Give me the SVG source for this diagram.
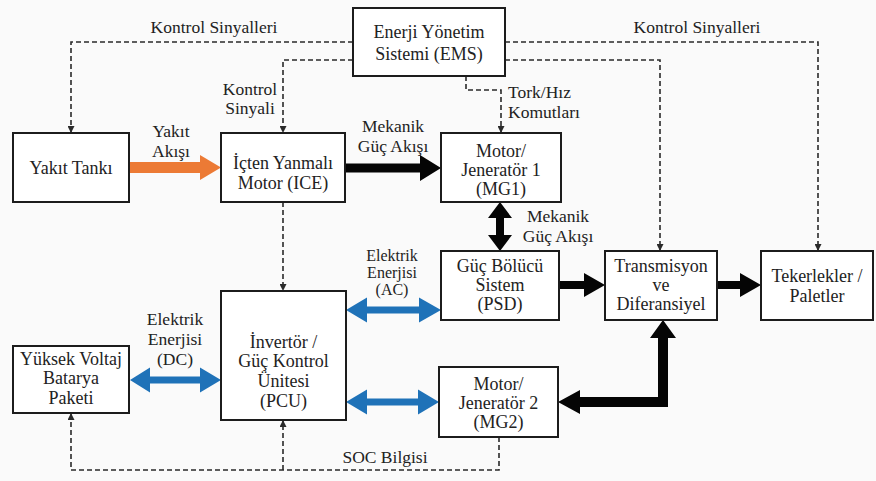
<svg xmlns="http://www.w3.org/2000/svg" width="876" height="481" viewBox="0 0 876 481">
  <defs>
    <marker id="tip" viewBox="0 0 10 10" refX="10" refY="5" markerWidth="7" markerHeight="7" markerUnits="userSpaceOnUse" orient="auto">
      <path d="M0,0 L10,5 L0,10 Z" fill="#2a2a2a"/>
    </marker>
  </defs>

  <rect x="0" y="0" width="876" height="481" fill="#fafafa"/>

  <!-- connectors -->
  <g id="connectors">
    <!-- control signals from EMS -->
    <g fill="none" stroke="#2a2a2a" stroke-width="1.6" stroke-dasharray="5 3">
      <path d="M353,42 H71 V133" marker-end="url(#tip)"/>
      <path d="M353,60 H283 V133" marker-end="url(#tip)"/>
      <path d="M505,42 H818 V251" marker-end="url(#tip)"/>
      <path d="M505,60 H660 V251" marker-end="url(#tip)"/>
      <path d="M466,76 V90 H501 V133" marker-end="url(#tip)"/>
      <path d="M283,202 V291" marker-end="url(#tip)"/>
      <!-- SOC feedback -->
      <path d="M499,437 V470 H71 V413" marker-end="url(#tip)"/>
      <path d="M283,470 V420" marker-end="url(#tip)"/>
    </g>

    <!-- fuel flow -->
    <polygon fill="#ec7a35" points="129,162 200,162 200,155 221,167.5 200,180 200,173 129,173"/>

    <!-- mechanical power -->
    <g fill="#050505">
      <polygon points="345,163.5 420,163.5 420,155 441,168 420,181 420,172.5 345,172.5"/>
      <polygon points="500,202 512,218 504,218 504,235 512,235 500,251 488,235 496,235 496,218 488,218"/>
      <polygon points="559,281 584,281 584,273 605,285 584,297 584,289 559,289"/>
      <polygon points="717,281 740,281 740,273 761,285 740,297 740,289 717,289"/>
      <polygon points="663,320 676,338 668,338 668,407 580,407 580,414 558,402 580,390 580,397 658,397 658,338 650,338"/>
    </g>

    <!-- electric energy -->
    <g fill="#1f72b8">
      <polygon points="130,380 150,367.5 150,376.5 200,376.5 200,367.5 221,380 200,392.5 200,383.5 150,383.5 150,392.5"/>
      <polygon points="346,310 367,297.5 367,306.5 419,306.5 419,297.5 441,310 419,322.5 419,313.5 367,313.5 367,322.5"/>
      <polygon points="346,402 367,389.5 367,398.5 418,398.5 418,389.5 439,402 418,414.5 418,405.5 367,405.5 367,414.5"/>
    </g>

    <!-- labels -->
    <g font-family="Liberation Serif" font-size="17.5" fill="#222" text-anchor="middle">
      <text font-family="Liberation Serif" x="214" y="33">Kontrol Sinyalleri</text>
      <text font-family="Liberation Serif" x="697" y="33">Kontrol Sinyalleri</text>
      <text font-family="Liberation Serif" x="250" y="95">Kontrol</text>
      <text font-family="Liberation Serif" x="250" y="114">Sinyali</text>
      <text font-family="Liberation Serif" x="171" y="137">Yakıt</text>
      <text font-family="Liberation Serif" x="171" y="157">Akışı</text>
      <text font-family="Liberation Serif" x="393" y="132">Mekanik</text>
      <text font-family="Liberation Serif" x="393" y="152">Güç Akışı</text>
      <text font-family="Liberation Serif" x="508" y="98" text-anchor="start">Tork/Hız</text>
      <text font-family="Liberation Serif" x="508" y="118" text-anchor="start">Komutları</text>
      <text font-family="Liberation Serif" x="558" y="222">Mekanik</text>
      <text font-family="Liberation Serif" x="558" y="242">Güç Akışı</text>
      <text font-family="Liberation Serif" x="392" y="261" font-size="16">Elektrik</text>
      <text font-family="Liberation Serif" x="392" y="278" font-size="16">Enerjisi</text>
      <text font-family="Liberation Serif" x="392" y="295" font-size="16">(AC)</text>
      <text font-family="Liberation Serif" x="175" y="325">Elektrik</text>
      <text font-family="Liberation Serif" x="175" y="345">Enerjisi</text>
      <text font-family="Liberation Serif" x="175" y="365">(DC)</text>
      <text font-family="Liberation Serif" x="385" y="463">SOC Bilgisi</text>
    </g>
  </g>

  <!-- nodes -->
  <g font-family="Liberation Serif" font-size="18" text-anchor="middle">
    <g id="ems">
      <rect x="353" y="8" width="152" height="68" fill="#ffffff" stroke="#1c1c1c" stroke-width="2"/>
      <text font-family="Liberation Serif" fill="#222" x="429" y="38">Enerji Yönetim</text>
      <text font-family="Liberation Serif" fill="#222" x="429" y="60">Sistemi (EMS)</text>
    </g>
    <g id="fuel-tank">
      <rect x="13" y="133" width="116" height="69" fill="#ffffff" stroke="#1c1c1c" stroke-width="2"/>
      <text font-family="Liberation Serif" fill="#222" x="71" y="174">Yakıt Tankı</text>
    </g>
    <g id="ice">
      <rect x="221" y="133" width="124" height="69" fill="#ffffff" stroke="#1c1c1c" stroke-width="2"/>
      <text font-family="Liberation Serif" fill="#222" x="283" y="169">İçten Yanmalı</text>
      <text font-family="Liberation Serif" fill="#222" x="283" y="189">Motor (ICE)</text>
    </g>
    <g id="mg1">
      <rect x="441" y="133" width="120" height="69" fill="#ffffff" stroke="#1c1c1c" stroke-width="2"/>
      <text font-family="Liberation Serif" fill="#222" x="501" y="157">Motor/</text>
      <text font-family="Liberation Serif" fill="#222" x="501" y="176">Jeneratör 1</text>
      <text font-family="Liberation Serif" fill="#222" x="501" y="195">(MG1)</text>
    </g>
    <g id="psd">
      <rect x="441" y="251" width="118" height="69" fill="#ffffff" stroke="#1c1c1c" stroke-width="2"/>
      <text font-family="Liberation Serif" fill="#222" x="500" y="272">Güç Bölücü</text>
      <text font-family="Liberation Serif" fill="#222" x="500" y="291">Sistem</text>
      <text font-family="Liberation Serif" fill="#222" x="500" y="310">(PSD)</text>
    </g>
    <g id="transmission">
      <rect x="605" y="251" width="112" height="69" fill="#ffffff" stroke="#1c1c1c" stroke-width="2"/>
      <text font-family="Liberation Serif" fill="#222" x="661" y="272">Transmisyon</text>
      <text font-family="Liberation Serif" fill="#222" x="661" y="291">ve</text>
      <text font-family="Liberation Serif" fill="#222" x="661" y="310">Diferansiyel</text>
    </g>
    <g id="wheels">
      <rect x="761" y="251" width="112" height="69" fill="#ffffff" stroke="#1c1c1c" stroke-width="2"/>
      <text font-family="Liberation Serif" fill="#222" x="817" y="282">Tekerlekler /</text>
      <text font-family="Liberation Serif" fill="#222" x="817" y="302">Paletler</text>
    </g>
    <g id="battery">
      <rect x="13" y="346" width="116" height="67" fill="#ffffff" stroke="#1c1c1c" stroke-width="2"/>
      <text font-family="Liberation Serif" fill="#222" x="71" y="365">Yüksek Voltaj</text>
      <text font-family="Liberation Serif" fill="#222" x="71" y="384">Batarya</text>
      <text font-family="Liberation Serif" fill="#222" x="71" y="404">Paketi</text>
    </g>
    <g id="pcu">
      <rect x="221" y="291" width="125" height="129" fill="#ffffff" stroke="#1c1c1c" stroke-width="2"/>
      <text font-family="Liberation Serif" fill="#222" x="283.5" y="348">İnvertör /</text>
      <text font-family="Liberation Serif" fill="#222" x="283.5" y="367">Güç Kontrol</text>
      <text font-family="Liberation Serif" fill="#222" x="283.5" y="387">Ünitesi</text>
      <text font-family="Liberation Serif" fill="#222" x="283.5" y="407">(PCU)</text>
    </g>
    <g id="mg2">
      <rect x="439" y="367" width="119" height="70" fill="#ffffff" stroke="#1c1c1c" stroke-width="2"/>
      <text font-family="Liberation Serif" fill="#222" x="498.5" y="390">Motor/</text>
      <text font-family="Liberation Serif" fill="#222" x="498.5" y="409">Jeneratör 2</text>
      <text font-family="Liberation Serif" fill="#222" x="498.5" y="428">(MG2)</text>
    </g>
  </g>
</svg>
